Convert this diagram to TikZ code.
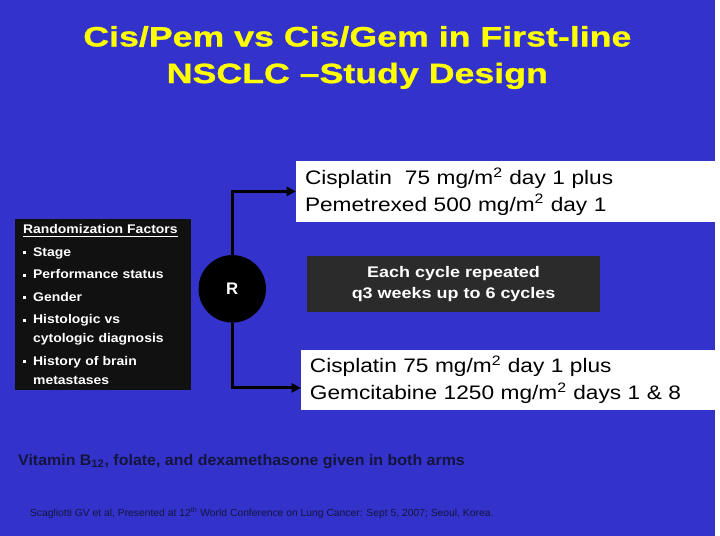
\documentclass[tikz,border=0pt]{standalone}
\usepackage{fontspec}
\setmainfont{Liberation Sans}
\usetikzlibrary{arrows.meta, positioning, calc}
\definecolor{slideblue}{RGB}{51,51,204}
\definecolor{titleyellow}{RGB}{255,255,0}
\definecolor{factorbg}{RGB}{17,17,17}
\definecolor{cyclebg}{RGB}{43,43,43}
\definecolor{footnavy}{RGB}{20,20,60}
\newcommand\sqbul{\makebox[0.8em][l]{\rule[0.3ex]{0.25em}{0.25em}}}
\newcommand\widefont[1]{\addfontfeatures{FakeStretch=#1}}
\tikzset{
    armbox/.style={rectangle, fill=white, anchor=north west, minimum width=10.55cm, minimum height=1.525cm, text width=10.1cm, align=left, inner xsep=0.225cm, font=\fontsize{14}{19.2}\selectfont\widefont{1.16}},
    arm/.style={-{Triangle[length=6.5pt, width=6.5pt]}, line width=2pt, black},
    foot/.style={anchor=west, inner sep=0pt, text=footnavy}
}

\begin{document}
\begin{tikzpicture}[
  x=0.025cm, y=-0.025cm,
  title/.style={align=center, text=titleyellow, font=\bfseries\fontsize{20}{26.3}\selectfont\addfontfeatures{FakeStretch=1.28, FakeBold=1}},
  factors/.style={rectangle, fill=factorbg, anchor=north west, minimum width=4.425cm, minimum height=4.325cm, text width=4.025cm, inner xsep=0.2cm, align=left, text=white, font=\bfseries\fontsize{9}{13.5}\selectfont\widefont{1.11}},
  randc/.style={circle, fill=black, minimum size=1.7cm, text=white, font=\bfseries\fontsize{12}{14}\selectfont},
  cycle/.style={rectangle, fill=cyclebg, minimum width=7.375cm, minimum height=1.4cm, align=center, text=white, font=\bfseries\fontsize{11}{15}\selectfont\widefont{1.17}}
]

% Background
\fill[slideblue] (0,0) rectangle (720,540);

% Nodes
\node[title] (head) at (360,58) {Cis/Pem vs Cis/Gem in First-line\\NSCLC --Study Design};

\node[factors] (factors) at (15,220) {\underline{Randomization Factors}\\[2.6pt]
  \sqbul Stage\\[2.6pt]
  \sqbul Performance status\\[2.6pt]
  \sqbul Gender\\[2.6pt]
  \sqbul Histologic vs\\
  \hspace*{0.8em}cytologic diagnosis\\[2.6pt]
  \sqbul History of brain\\
  \hspace*{0.8em}metastases};

\node[randc] (rand) at (234,291) {R};

\node[armbox] (pemarm) at (298,162) {Cisplatin\ \ 75 mg/m\textsuperscript{2} day 1 plus\\Pemetrexed 500 mg/m\textsuperscript{2} day 1};
\node[armbox] (gemarm) at (303,352) {Cisplatin 75 mg/m\textsuperscript{2} day 1 plus\\Gemcitabine 1250 mg/m\textsuperscript{2} days 1 \& 8};

\node[cycle] (cycles) at (457,286) {Each cycle repeated\\q3 weeks up to 6 cycles};

\node[foot, font=\bfseries\fontsize{11}{13}\selectfont\widefont{1.04}] (vitamin) at (18,465) {Vitamin B\textsubscript{12}, folate, and dexamethasone given in both arms};
\node[foot, font=\fontsize{7.4}{8}\selectfont] (cite) at (30,517) {Scagliotti GV et al, Presented at 12\textsuperscript{th} World Conference on Lung Cancer: Sept 5, 2007; Seoul, Korea.};

% Arms from randomization
\draw[arm] (rand.north) |- (pemarm.west);
\draw[arm] (rand.south) |- ($(gemarm.west)+(0,8)$);
\end{tikzpicture}
\end{document}
